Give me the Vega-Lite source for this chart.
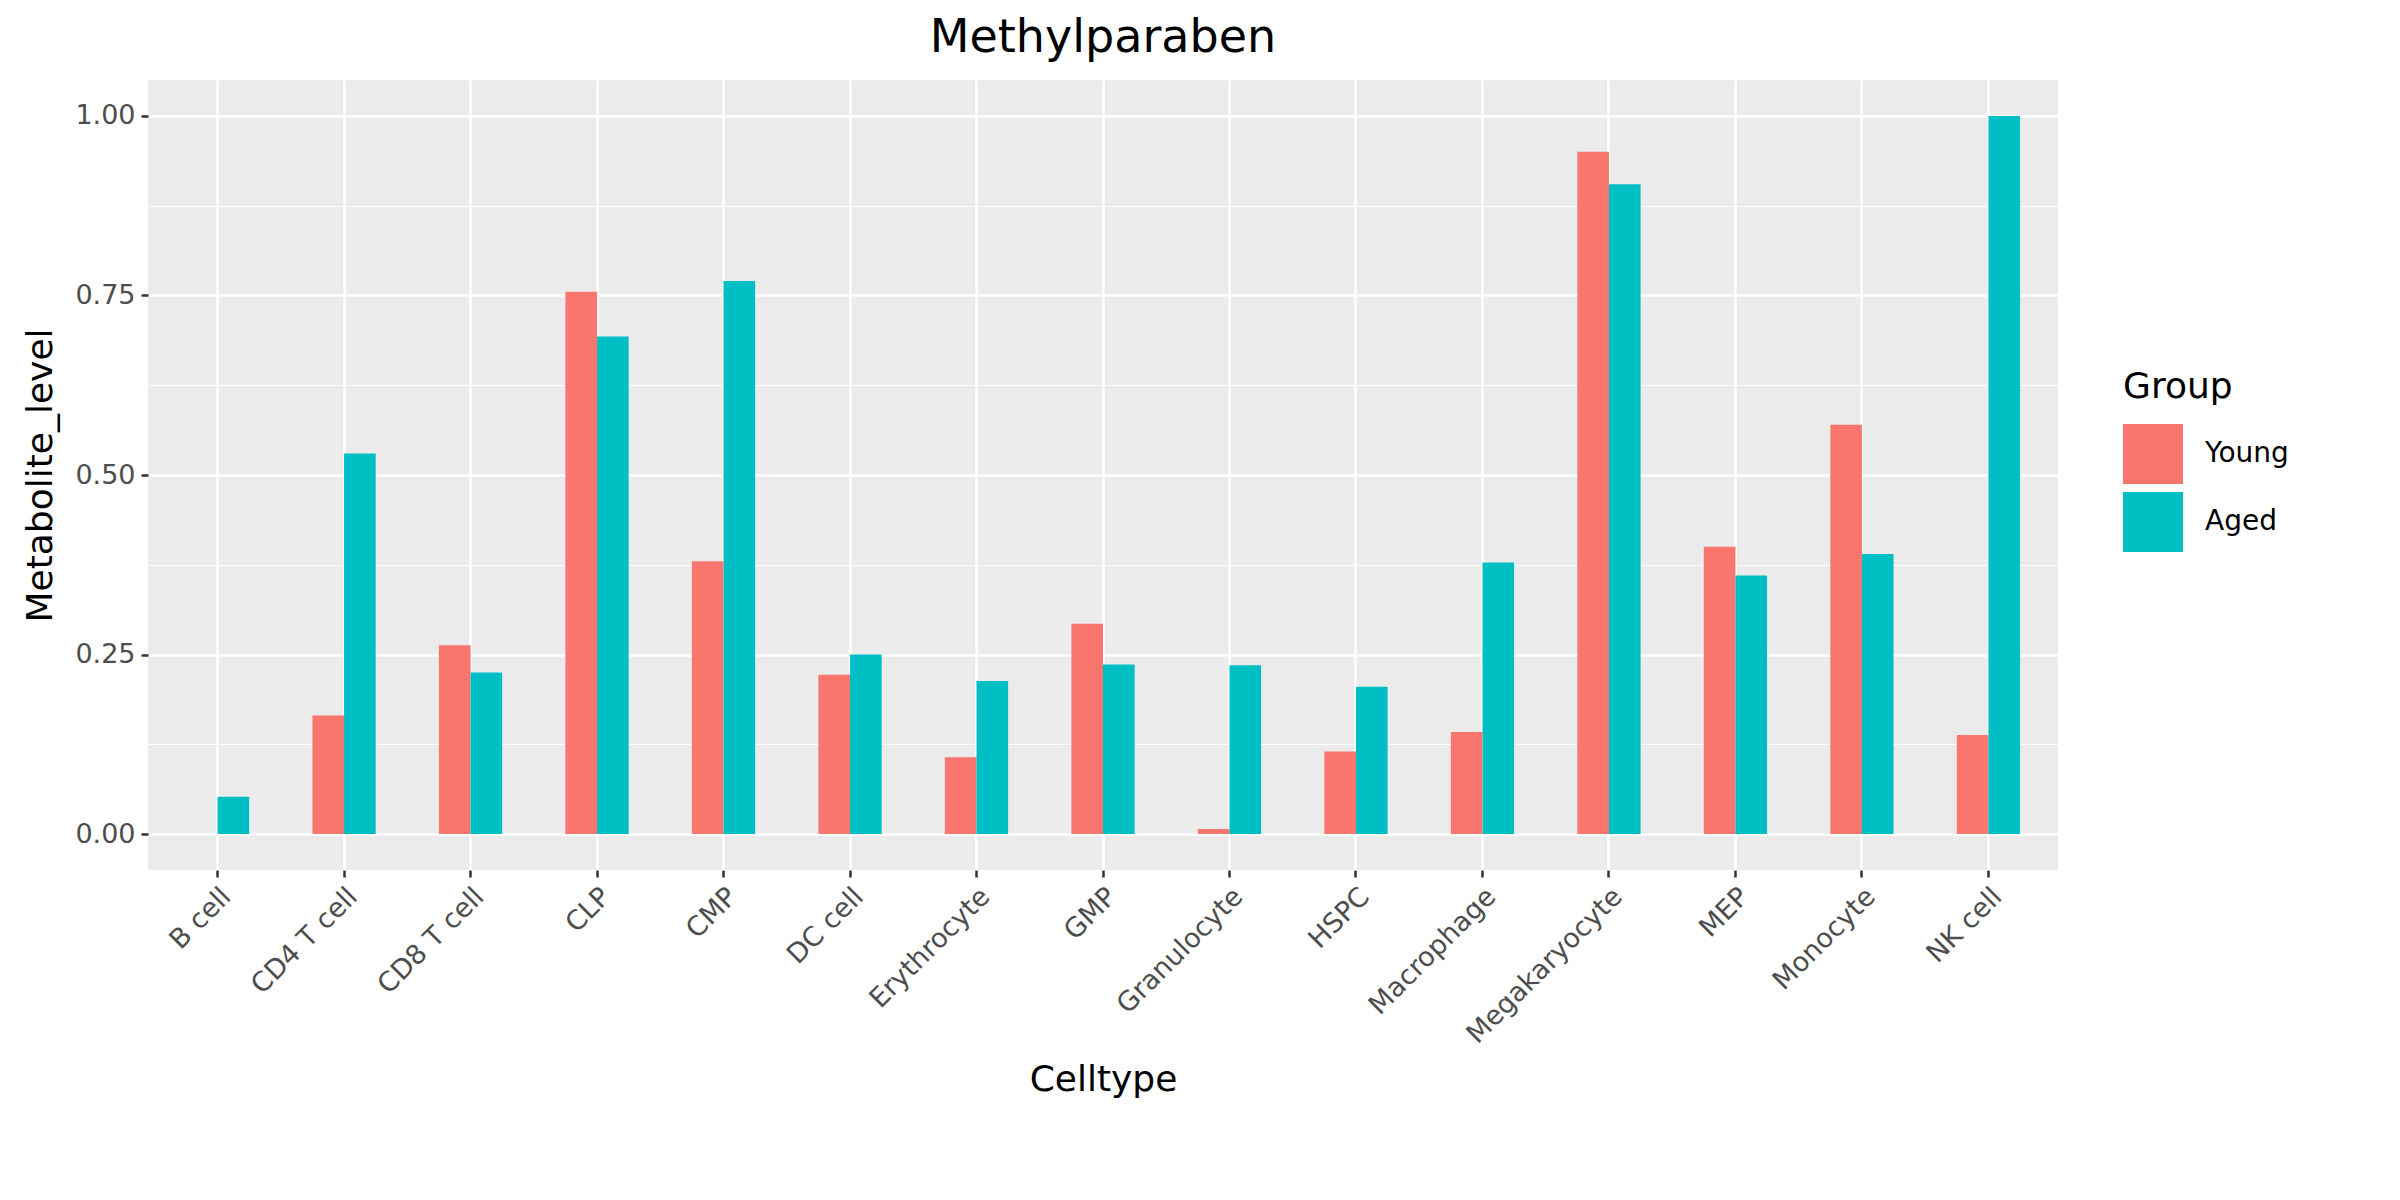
{
  "$schema": "https://vega.github.io/schema/vega-lite/v6.json",
  "width": 1910,
  "height": 790,
  "padding": {"left": 22, "top": 15, "right": 10, "bottom": 10},
  "background": "white",
  "title": {"text": "Methylparaben", "fontSize": 46, "font": "DejaVu Sans", "fontWeight": "normal", "color": "black", "offset": 18},
  "data": {
    "values": [
      {"Celltype": "B cell", "Group": "Young", "Metabolite_level": 0.0},
      {"Celltype": "B cell", "Group": "Aged", "Metabolite_level": 0.052},
      {"Celltype": "CD4 T cell", "Group": "Young", "Metabolite_level": 0.165},
      {"Celltype": "CD4 T cell", "Group": "Aged", "Metabolite_level": 0.53},
      {"Celltype": "CD8 T cell", "Group": "Young", "Metabolite_level": 0.263},
      {"Celltype": "CD8 T cell", "Group": "Aged", "Metabolite_level": 0.225},
      {"Celltype": "CLP", "Group": "Young", "Metabolite_level": 0.755},
      {"Celltype": "CLP", "Group": "Aged", "Metabolite_level": 0.693},
      {"Celltype": "CMP", "Group": "Young", "Metabolite_level": 0.38},
      {"Celltype": "CMP", "Group": "Aged", "Metabolite_level": 0.77},
      {"Celltype": "DC cell", "Group": "Young", "Metabolite_level": 0.222},
      {"Celltype": "DC cell", "Group": "Aged", "Metabolite_level": 0.25},
      {"Celltype": "Erythrocyte", "Group": "Young", "Metabolite_level": 0.107},
      {"Celltype": "Erythrocyte", "Group": "Aged", "Metabolite_level": 0.213},
      {"Celltype": "GMP", "Group": "Young", "Metabolite_level": 0.293},
      {"Celltype": "GMP", "Group": "Aged", "Metabolite_level": 0.236},
      {"Celltype": "Granulocyte", "Group": "Young", "Metabolite_level": 0.007},
      {"Celltype": "Granulocyte", "Group": "Aged", "Metabolite_level": 0.235},
      {"Celltype": "HSPC", "Group": "Young", "Metabolite_level": 0.115},
      {"Celltype": "HSPC", "Group": "Aged", "Metabolite_level": 0.205},
      {"Celltype": "Macrophage", "Group": "Young", "Metabolite_level": 0.142},
      {"Celltype": "Macrophage", "Group": "Aged", "Metabolite_level": 0.378},
      {"Celltype": "Megakaryocyte", "Group": "Young", "Metabolite_level": 0.95},
      {"Celltype": "Megakaryocyte", "Group": "Aged", "Metabolite_level": 0.905},
      {"Celltype": "MEP", "Group": "Young", "Metabolite_level": 0.40},
      {"Celltype": "MEP", "Group": "Aged", "Metabolite_level": 0.36},
      {"Celltype": "Monocyte", "Group": "Young", "Metabolite_level": 0.57},
      {"Celltype": "Monocyte", "Group": "Aged", "Metabolite_level": 0.39},
      {"Celltype": "NK cell", "Group": "Young", "Metabolite_level": 0.138},
      {"Celltype": "NK cell", "Group": "Aged", "Metabolite_level": 1.0}
    ]
  },
  "mark": "bar",
  "encoding": {
    "x": {
      "field": "Celltype",
      "type": "nominal",
      "sort": null,
      "scale": {"paddingInner": 0.5, "paddingOuter": 0.3},
      "axis": {
        "bandPosition": 0.5,
        "labelAngle": -45,
        "labelAlign": "right",
        "labelBaseline": "top",
        "labelLimit": 400,
        "title": "Celltype",
        "titlePadding": 15
      }
    },
    "xOffset": {"field": "Group", "type": "nominal", "sort": ["Young", "Aged"]},
    "y": {
      "field": "Metabolite_level",
      "type": "quantitative",
      "scale": {"domain": [-0.05, 1.05], "nice": false},
      "axis": {
        "values": [0, 0.125, 0.25, 0.375, 0.5, 0.625, 0.75, 0.875, 1.0],
        "format": ".2f",
        "labelExpr": "datum.value % 0.25 == 0 ? datum.label : ''",
        "gridWidth": {"condition": {"test": "datum.value % 0.25 != 0", "value": 1.2}, "value": 2.5},
        "tickSize": {"condition": {"test": "datum.value % 0.25 != 0", "value": 0}, "value": 7},
        "title": "Metabolite_level",
        "titlePadding": 15
      }
    },
    "color": {
      "field": "Group",
      "type": "nominal",
      "sort": ["Young", "Aged"],
      "scale": {"domain": ["Young", "Aged"], "range": ["#F8766D", "#00BFC4"]},
      "legend": {"title": "Group", "orient": "none", "legendX": 1975, "legendY": 290, "symbolType": "square", "symbolSize": 3600, "symbolStrokeWidth": 0, "labelFontSize": 28, "titleFontSize": 36, "titleFontWeight": "normal", "rowPadding": 8, "labelOffset": 22, "titlePadding": 18, "font": "DejaVu Sans"}
    }
  },
  "config": {
    "font": "DejaVu Sans",
    "view": {"fill": "#EBEBEB", "stroke": null},
    "axis": {
      "grid": true,
      "gridColor": "white",
      "gridWidth": 2.5,
      "domain": false,
      "tickColor": "#333333",
      "tickWidth": 2.5,
      "tickSize": 7,
      "labelFontSize": 27,
      "labelColor": "#4D4D4D",
      "labelFont": "DejaVu Sans",
      "titleFontSize": 36,
      "titleFontWeight": "normal",
      "titleColor": "black",
      "titleFont": "DejaVu Sans",
      "labelPadding": 6
    },
    "legend": {"labelColor": "black", "titleColor": "black", "labelFont": "DejaVu Sans", "titleFont": "DejaVu Sans", "labelLimit": 400}
  }
}
